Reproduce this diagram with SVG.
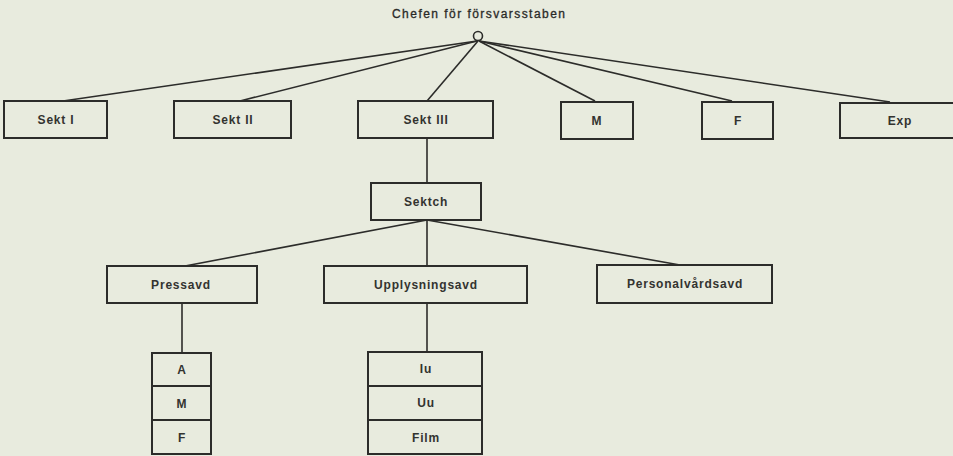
<svg xmlns="http://www.w3.org/2000/svg" width="953" height="456" viewBox="0 0 953 456">
<style>
.bg{fill:#e8ebde}
.box{fill:none;stroke:#2c2c2a;stroke-width:2}
.lbl{font-family:"Liberation Sans",Arial,sans-serif;font-size:12px;font-weight:bold;fill:#333330;text-anchor:middle;letter-spacing:0.8px}
.ttl{font-family:"Liberation Sans",Arial,sans-serif;font-size:12px;fill:#2a2a28;stroke:#2a2a28;stroke-width:0.3}
.con{fill:none;stroke:#2c2c2a;stroke-width:1.6}
</style>
<rect class="bg" x="0" y="0" width="953" height="456"/>
<g id="connectors">
<circle class="con" cx="478" cy="36" r="4.5"/>
<line class="con" x1="477" y1="41" x2="63" y2="101"/>
<line class="con" x1="477" y1="41" x2="240" y2="101"/>
<line class="con" x1="478" y1="41" x2="427" y2="101"/>
<line class="con" x1="479" y1="41" x2="595" y2="101"/>
<line class="con" x1="479" y1="41" x2="732" y2="101"/>
<line class="con" x1="479" y1="41" x2="890" y2="102"/>
<line class="con" x1="427" y1="138" x2="427" y2="183"/>
<line class="con" x1="427" y1="220" x2="185" y2="266"/>
<line class="con" x1="427" y1="220" x2="427" y2="266"/>
<line class="con" x1="427" y1="220" x2="680" y2="265"/>
<line class="con" x1="182" y1="303" x2="182" y2="353"/>
<line class="con" x1="427" y1="303" x2="427" y2="352"/>
</g>
<g id="chef">
<text class="ttl" x="392" y="18" textLength="173" lengthAdjust="spacing">Chefen för försvarsstaben</text>
</g>
<g id="sekt1"><rect class="box" x="4" y="101" width="103" height="37"/><text class="lbl" x="56" y="124">Sekt I</text></g>
<g id="sekt2"><rect class="box" x="174" y="101" width="117" height="37"/><text class="lbl" x="233" y="124">Sekt II</text></g>
<g id="sekt3"><rect class="box" x="358" y="101" width="135" height="37"/><text class="lbl" x="426" y="124">Sekt III</text></g>
<g id="m"><rect class="box" x="561" y="102" width="72" height="37"/><text class="lbl" x="597" y="125">M</text></g>
<g id="f"><rect class="box" x="702" y="102" width="71" height="37"/><text class="lbl" x="738" y="125">F</text></g>
<g id="exp"><rect class="box" x="840" y="103" width="125" height="35"/><text class="lbl" x="900" y="125">Exp</text></g>
<g id="sektch"><rect class="box" x="371" y="183" width="110" height="37"/><text class="lbl" x="426" y="206">Sektch</text></g>
<g id="pressavd"><rect class="box" x="107" y="266" width="150" height="37"/><text class="lbl" x="181" y="289">Pressavd</text></g>
<g id="upplysningsavd"><rect class="box" x="324" y="266" width="203" height="37"/><text class="lbl" x="426" y="289">Upplysningsavd</text></g>
<g id="personalvardsavd"><rect class="box" x="597" y="265" width="175" height="38"/><text class="lbl" x="685" y="288">Personalvårdsavd</text></g>
<g id="press-a"><rect class="box" x="152" y="353" width="59" height="33"/><text class="lbl" x="182" y="374">A</text></g>
<g id="press-m"><rect class="box" x="152" y="386" width="59" height="34"/><text class="lbl" x="182" y="408">M</text></g>
<g id="press-f"><rect class="box" x="152" y="420" width="59" height="34"/><text class="lbl" x="182" y="442">F</text></g>
<g id="upp-iu"><rect class="box" x="368" y="352" width="114" height="34"/><text class="lbl" x="426" y="373">Iu</text></g>
<g id="upp-uu"><rect class="box" x="368" y="386" width="114" height="34"/><text class="lbl" x="426" y="407">Uu</text></g>
<g id="upp-film"><rect class="box" x="368" y="420" width="114" height="34"/><text class="lbl" x="426" y="442">Film</text></g>
</svg>
